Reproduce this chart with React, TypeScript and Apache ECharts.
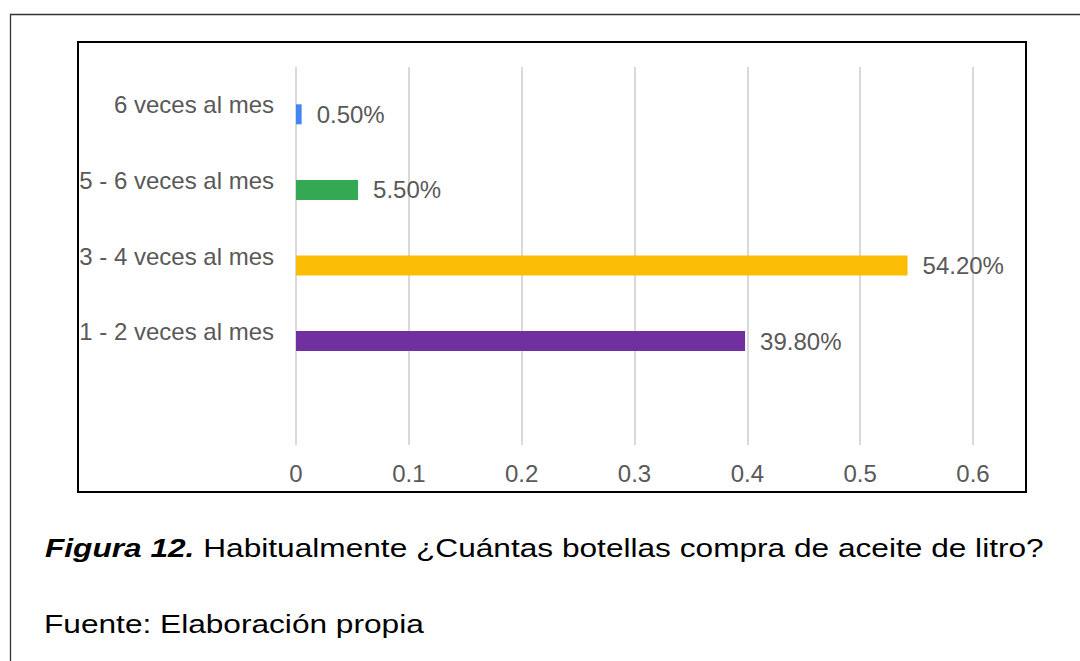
import React, { useEffect, useRef } from "react";
import * as echarts from "echarts";

const categories = [
  "6 veces al mes",
  "5 - 6 veces al mes",
  "3 - 4 veces al mes",
  "1 - 2 veces al mes",
  "",
];
const values = [0.005, 0.055, 0.542, 0.398, null];
const barColors = ["#4285F4", "#34A853", "#FBBC04", "#7030A0", "#000000"];
const xTicks = { min: 0, max: 0.6, interval: 0.1 };
const captionBold = "Figura 12.";
const captionText = " Habitualmente ¿Cuántas botellas compra de aceite de litro?";
const sourceText = "Fuente: Elaboración propia";

const FONT = "'Liberation Sans', Arial, Helvetica, sans-serif";

export default function App() {
  const ref = useRef<HTMLDivElement>(null);
  useEffect(() => {
    if (!ref.current) return;
    const chart = echarts.init(ref.current, null, { renderer: "svg" });
    chart.setOption({
      animation: false,
      backgroundColor: "#ffffff",
      grid: { left: 296, right: 107, top: 67, bottom: 216, containLabel: false },
      xAxis: {
        type: "value",
        min: xTicks.min,
        max: xTicks.max,
        interval: xTicks.interval,
        axisLine: { show: false },
        axisTick: { show: false },
        splitLine: { show: true, lineStyle: { color: "#d9d9d9", width: 2 } },
        axisLabel: {
          color: "#595959",
          fontSize: 24,
          fontFamily: FONT,
          margin: 16,
        },
      },
      yAxis: {
        type: "category",
        inverse: true,
        data: categories,
        axisLine: { show: false },
        axisTick: { show: false },
        splitLine: { show: false },
        axisLabel: {
          color: "#595959",
          fontSize: 24,
          fontFamily: FONT,
          margin: 22,
        },
      },
      series: [
        {
          type: "bar",
          name: "spacer",
          data: categories.map(() => null),
          barWidth: 20,
          barGap: "-5%",
          silent: true,
          itemStyle: { color: "transparent" },
        },
        {
          type: "bar",
          name: "valor",
          barWidth: 20,
          barGap: "-5%",
          data: values.map((v, i) => ({
            value: v,
            itemStyle: { color: barColors[i] },
          })),
          label: {
            show: true,
            position: "right",
            distance: 15,
            color: "#595959",
            fontSize: 24,
            fontFamily: FONT,
            formatter: (p: any) =>
              p.value == null ? "" : (p.value * 100).toFixed(2) + "%",
          },
        },
      ],
      graphic: [
        {
          type: "rect",
          silent: true,
          shape: { x: 10.5, y: 14.5, width: 1200, height: 800 },
          style: { fill: "none", stroke: "#333333", lineWidth: 1.3 },
        },
        {
          type: "rect",
          silent: true,
          shape: { x: 78, y: 42, width: 948, height: 450 },
          style: { fill: "none", stroke: "#000000", lineWidth: 2 },
        },
        {
          type: "text",
          x: 45,
          y: 548,
          scaleX: 1.266,
          style: {
            text: "{b|" + captionBold + "}{r|" + captionText + "}",
            verticalAlign: "middle",
            align: "left",
            rich: {
              b: {
                fontSize: 25,
                fontWeight: "bold",
                fontStyle: "italic",
                fontFamily: FONT,
                fill: "#000000",
              },
              r: { fontSize: 25, fontFamily: FONT, fill: "#000000" },
            },
          },
        },
        {
          type: "text",
          x: 44,
          y: 624,
          scaleX: 1.266,
          style: {
            text: sourceText,
            verticalAlign: "middle",
            align: "left",
            fontSize: 25,
            fontFamily: FONT,
            fill: "#000000",
          },
        },
      ],
    });
    return () => chart.dispose();
  }, []);
  return (
    <div
      ref={ref}
      style={{ position: "fixed", left: 0, top: 0, width: 1080, height: 661 }}
    />
  );
}
